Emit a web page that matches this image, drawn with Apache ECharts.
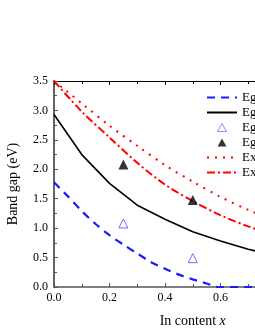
<!DOCTYPE html>
<html>
<head>
<meta charset="utf-8">
<script src="https://cdn.jsdelivr.net/npm/echarts@6/dist/echarts.min.js"></script>
<style>html,body{margin:0;padding:0;background:#fff;}#c{width:255px;height:330px;}</style>
</head>
<body>
<div id="c"></div>
<script>
// Data
const egDashedX = [0, 0.05, 0.1, 0.15, 0.2, 0.25, 0.3, 0.35, 0.4, 0.45, 0.5, 0.55, 0.59, 0.7, 0.8, 0.9, 1.0];
const egDashedY = [1.78, 1.54, 1.29, 1.07, 0.88, 0.72, 0.57, 0.42, 0.31, 0.21, 0.13, 0.06, 0.0, 0.0, 0.0, 0.0, 0.0];
const egSolidX = [0, 0.1, 0.2, 0.3, 0.4, 0.5, 0.6, 0.7, 0.8, 0.9, 1.0];
const egSolidY = [2.93, 2.25, 1.76, 1.39, 1.15, 0.94, 0.78, 0.64, 0.53, 0.45, 0.40];
const egOpenX = [0.25, 0.5];
const egOpenY = [1.08, 0.49];
const egFilledX = [0.25, 0.5];
const egFilledY = [2.08, 1.48];
const exDotX = [0, 0.1, 0.2, 0.3, 0.4, 0.5, 0.6, 0.7, 0.8, 0.9, 1.0];
const exDotY = [3.5, 3.12, 2.74, 2.40, 2.07, 1.79, 1.53, 1.31, 1.12, 0.96, 0.84];
const exDashDotX = [0, 0.1, 0.2, 0.3, 0.4, 0.5, 0.6, 0.7, 0.8, 0.9, 1.0];
const exDashDotY = [3.5, 2.98, 2.54, 2.11, 1.74, 1.46, 1.22, 1.03, 0.88, 0.76, 0.67];
const seriesNames = ['Eg', 'Eg ', 'Eg  ', 'Eg   ', 'Ex', 'Ex '];
const xTicks = {min: 0, max: 1.0, interval: 0.2};
const yTicks = {min: 0, max: 3.5, interval: 0.5};

const zip = (xs, ys) => xs.map((x, i) => [x, ys[i]]);
const serif = '"Liberation Serif", "Times New Roman", serif';
const triPath = 'path://M5,0 L10,9 L0,9 Z';
const hideSym = {opacity: 0};

const chart = echarts.init(document.getElementById('c'), null, {renderer: 'canvas'});
chart.setOption({
  animation: false,
  backgroundColor: '#fff',
  grid: {left: 54, top: 81, width: 277.5, height: 206, outerBoundsMode: 'none', containLabel: false},
  legend: {
    orient: 'vertical', left: 206, top: 91, padding: 0,
    itemWidth: 30, itemHeight: 8, itemGap: 2, symbolKeepAspect: true,
    textStyle: {fontFamily: serif, fontSize: 13, color: '#000', lineHeight: 13, overflow: 'none'},
    formatter: n => n.trim(),
    data: [
      {name: seriesNames[0], itemStyle: hideSym},
      {name: seriesNames[1], itemStyle: hideSym},
      {name: seriesNames[2], icon: triPath, itemStyle: {color: '#fff', borderColor: '#4a4aff', borderWidth: 0.8}},
      {name: seriesNames[3], icon: triPath},
      {name: seriesNames[4], itemStyle: hideSym},
      {name: seriesNames[5], itemStyle: hideSym}
    ]
  },
  xAxis: [{
    type: 'value', min: xTicks.min, max: xTicks.max, interval: xTicks.interval,
    position: 'bottom',
    name: '{a|In content }{b|x}', nameLocation: 'middle', nameGap: 27,
    nameTextStyle: {rich: {a: {fontFamily: serif, fontSize: 14, color: '#000'}, b: {fontFamily: serif, fontSize: 14, fontStyle: 'italic', color: '#000'}}},
    axisLine: {lineStyle: {color: '#555', width: 1.5}},
    axisTick: {inside: true, length: 4, lineStyle: {color: '#555'}},
    minorTick: {show: true, splitNumber: 2, length: 3, lineStyle: {color: '#555'}},
    axisLabel: {margin: 5, fontFamily: serif, fontSize: 12, color: '#000', formatter: v => v.toFixed(1)},
    splitLine: {show: false}
  }, {
    type: 'value', min: xTicks.min, max: xTicks.max, interval: xTicks.interval,
    position: 'top',
    axisLine: {lineStyle: {color: '#000', width: 1.2}},
    axisTick: {inside: true, length: 4, lineStyle: {color: '#000'}},
    minorTick: {show: true, splitNumber: 2, length: 3, lineStyle: {color: '#000'}},
    axisLabel: {show: false},
    splitLine: {show: false}
  }],
  yAxis: {
    type: 'value', min: yTicks.min, max: yTicks.max, interval: yTicks.interval,
    name: 'Band gap (eV)', nameLocation: 'middle', nameGap: 34,
    nameTextStyle: {fontFamily: serif, fontSize: 14, color: '#000'},
    axisLine: {show: true, lineStyle: {color: '#666', width: 2}},
    axisTick: {inside: true, length: 4, lineStyle: {color: '#555'}},
    minorTick: {show: true, splitNumber: 2, length: 3, lineStyle: {color: '#555'}},
    axisLabel: {margin: 6, fontFamily: serif, fontSize: 12, color: '#000', formatter: v => v.toFixed(1)},
    splitLine: {show: false}
  },
  series: [
    {name: seriesNames[0], type: 'line', data: zip(egDashedX, egDashedY), showSymbol: false, symbol: 'none', smooth: 0.3,
     lineStyle: {color: '#1a1aff', width: 2.2, type: [8, 6]}, itemStyle: {color: '#1a1aff'}, z: 3},
    {name: seriesNames[1], type: 'line', data: zip(egSolidX, egSolidY), showSymbol: false, symbol: 'none',
     lineStyle: {color: '#000', width: 1.6, type: 'solid'}, itemStyle: {color: '#000'}, z: 3},
    {name: seriesNames[2], type: 'scatter', data: zip(egOpenX, egOpenY), symbol: 'triangle', symbolSize: 9,
     itemStyle: {color: '#fff', borderColor: '#4a4aff', borderWidth: 1}, z: 5},
    {name: seriesNames[3], type: 'scatter', data: zip(egFilledX, egFilledY), symbol: 'triangle', symbolSize: 10,
     itemStyle: {color: '#000'}, z: 5},
    {name: seriesNames[4], type: 'line', data: zip(exDotX, exDotY), showSymbol: false, symbol: 'none', smooth: 0.3,
     lineStyle: {color: '#ff0000', width: 2, type: [2, 6]}, itemStyle: {color: '#ff0000'}, z: 4},
    {name: seriesNames[5], type: 'line', data: zip(exDashDotX, exDashDotY), showSymbol: false, symbol: 'none', smooth: 0.3,
     lineStyle: {color: '#ff0000', width: 2, type: [8, 3, 2, 3]}, itemStyle: {color: '#ff0000'}, z: 4}
  ]
});
</script>
</body>
</html>
